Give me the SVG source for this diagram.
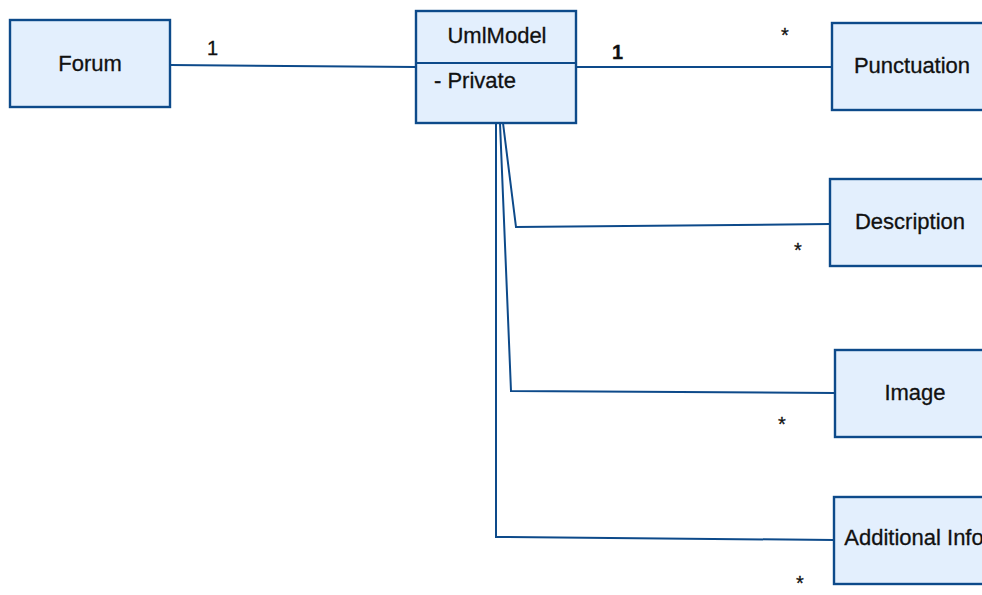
<svg xmlns="http://www.w3.org/2000/svg" width="982" height="595" viewBox="0 0 982 595">
  <style>
    .box { fill: #e3effd; stroke: #0d4a8a; stroke-width: 2.4; }
    .edge { fill: none; stroke: #0d4a8a; stroke-width: 2; stroke-linejoin: miter; }
    .name { font-family: "Liberation Sans", Arial, sans-serif; font-size: 22px; fill: #111; stroke: #111; stroke-width: 0.3; text-anchor: middle; }
    .attr { font-family: "Liberation Sans", Arial, sans-serif; font-size: 22px; fill: #111; stroke: #111; stroke-width: 0.3; }
    .mult { font-family: "Liberation Sans", Arial, sans-serif; font-size: 20px; fill: #111; stroke: #111; stroke-width: 0.3; }
  </style>
  <rect width="982" height="595" fill="#ffffff"/>

  <!-- associations -->
  <g id="connectors">
    <polyline class="edge" points="170,65 416,67"/>
    <polyline class="edge" points="576,67 832,67"/>
    <polyline class="edge" points="503,123 516,227 830,224"/>
    <polyline class="edge" points="500,123 511,391 835,393"/>
    <polyline class="edge" points="496,123 496,537 834,540"/>
    <text class="mult" x="207" y="55">1</text>
    <text class="mult" x="612" y="59" font-weight="bold">1</text>
    <text class="mult" x="781" y="42">*</text>
    <text class="mult" x="794" y="257">*</text>
    <text class="mult" x="778" y="431">*</text>
    <text class="mult" x="796" y="590">*</text>
  </g>

  <g id="forum">
    <rect class="box" x="10" y="20" width="160" height="87"/>
    <text class="name" x="90" y="71">Forum</text>
  </g>

  <g id="umlmodel">
    <rect class="box" x="416" y="11" width="160" height="112"/>
    <line class="edge" x1="416" y1="63" x2="576" y2="63" stroke-width="2.2"/>
    <text class="name" x="497" y="43">UmlModel</text>
    <text class="attr" x="434" y="88">- Private</text>
  </g>

  <g id="punctuation">
    <rect class="box" x="832" y="23" width="160" height="87"/>
    <text class="name" x="912" y="73">Punctuation</text>
  </g>

  <g id="description">
    <rect class="box" x="830" y="179" width="160" height="87"/>
    <text class="name" x="910" y="229">Description</text>
  </g>

  <g id="image">
    <rect class="box" x="835" y="350" width="160" height="87"/>
    <text class="name" x="915" y="400">Image</text>
  </g>

  <g id="additional-info">
    <rect class="box" x="834" y="497" width="160" height="87"/>
    <text class="name" x="914" y="545">Additional Info</text>
  </g>
</svg>
